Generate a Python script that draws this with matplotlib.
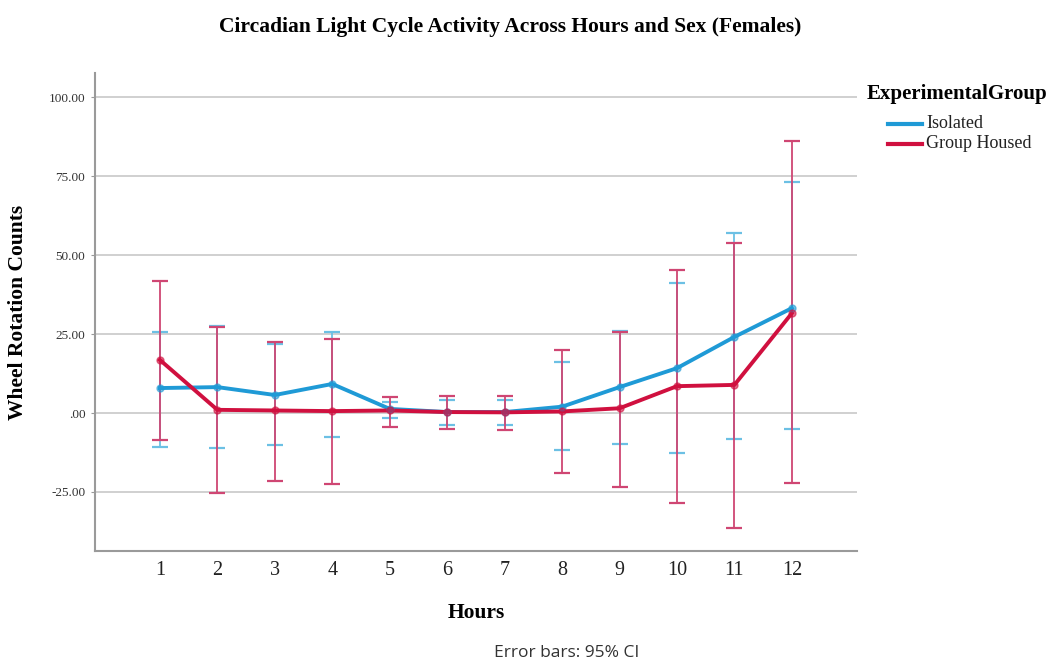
import matplotlib
import matplotlib.pyplot as plt
from matplotlib.lines import Line2D
from matplotlib.ticker import FuncFormatter

matplotlib.use('Agg')

hours = [1, 2, 3, 4, 5, 6, 7, 8, 9, 10, 11, 12]

# mean wheel counts and 95% CI bounds per group
isolated_mean = [7.9, 8.2, 5.7, 9.2, 1.3, 0.3, 0.3, 2.0, 8.2, 14.2, 24.1, 33.2]
isolated_low = [-10.8, -11.0, -10.1, -7.7, -1.6, -3.8, -3.8, -11.7, -9.8, -12.8, -8.3, -5.1]
isolated_high = [25.6, 27.4, 22.0, 25.6, 3.6, 4.1, 4.1, 16.2, 26.0, 41.1, 57.0, 73.2]

housed_mean = [16.8, 1.0, 0.8, 0.6, 0.8, 0.3, 0.2, 0.5, 1.5, 8.5, 8.9, 31.6]
housed_low = [-8.5, -25.3, -21.5, -22.5, -4.4, -5.2, -5.3, -18.9, -23.5, -28.5, -36.4, -22.2]
housed_high = [41.8, 27.3, 22.5, 23.4, 5.1, 5.4, 5.4, 20.0, 25.7, 45.3, 53.8, 86.0]

groups = ['Isolated', 'Group Housed']
y_ticks = [-25, 0, 25, 50, 75, 100]

BLUE = '#1f9ad6'
RED = '#d0103f'
BLUE_ERR = '#6cc0e4'
RED_ERR = '#cf4673'
SERIF = 'Liberation Serif'


def fmt_tick(v, pos):
    s = '%.2f' % v
    if s.startswith('0'):
        s = s[1:]
    elif s.startswith('-0'):
        s = '-' + s[2:]
    return s


def draw_group(ax, mean, low, high, color, err_color):
    yerr = [[m - lo for m, lo in zip(mean, low)], [hi - m for m, hi in zip(mean, high)]]
    ax.errorbar(hours, mean, yerr=yerr, fmt='none', ecolor=err_color,
                elinewidth=1.3, capsize=5.5, capthick=1.6, zorder=3)
    ax.plot(hours, mean, color=color, linewidth=2.8, zorder=4)
    ax.plot(hours, mean, 'o', color=color, markersize=5, alpha=0.6, zorder=5)


fig = plt.figure(figsize=(10.63, 6.66), dpi=100)
ax = fig.add_axes([0.0894, 0.1727, 0.7166, 0.7173])

draw_group(ax, isolated_mean, isolated_low, isolated_high, BLUE, BLUE_ERR)
draw_group(ax, housed_mean, housed_low, housed_high, RED, RED_ERR)

ax.set_xlim(-0.13, 13.13)
ax.set_ylim(-43.7, 107.6)
ax.set_xticks(hours)
ax.set_xticklabels([str(h) for h in hours], fontsize=14.5, family=SERIF)
ax.set_yticks(y_ticks)
ax.yaxis.set_major_formatter(FuncFormatter(fmt_tick))
for lab in ax.get_yticklabels():
    lab.set_family(SERIF)
    lab.set_fontsize(9.5)
ax.tick_params(axis='x', length=0, pad=7, colors='#222222')
ax.tick_params(axis='y', length=3, width=0.8, pad=4, colors='#333333')
ax.tick_params(axis='y', color='#999999')

ax.grid(axis='y', color='#c8c8c8', linewidth=1.2, zorder=0)
ax.set_axisbelow(True)
for side in ['top', 'right']:
    ax.spines[side].set_visible(False)
for side in ['left', 'bottom']:
    ax.spines[side].set_color('#9a9a9a')
    ax.spines[side].set_linewidth(1.5)

ax.set_xlabel('Hours', fontsize=15.5, fontweight='bold', family=SERIF, va='center')
ax.set_ylabel('Wheel Rotation Counts', fontsize=15.5, fontweight='bold', family=SERIF,
              va='center')
ax.xaxis.set_label_coords(0.5, -0.13)
ax.yaxis.set_label_coords(-0.101, 0.5)

fig.text(0.48, 0.96, 'Circadian Light Cycle Activity Across Hours and Sex (Females)',
         ha='center', va='center', fontsize=15.5, fontweight='bold', family=SERIF)

# legend laid out by hand: bold title, indented line keys
fig.text(867 / 1063, 1 - 94 / 666, 'ExperimentalGroup', ha='left', va='center',
         fontsize=15, fontweight='bold', family=SERIF)
for i, (name, color) in enumerate(zip(groups, [BLUE, RED])):
    yk = 1 - (124 + 20 * i) / 666
    fig.add_artist(Line2D([888 / 1063, 922 / 1063], [yk, yk], color=color,
                          linewidth=3, transform=fig.transFigure))
    fig.text(926 / 1063, yk, name, ha='left', va='center', fontsize=13, family=SERIF,
             color='#222222')

fig.text(0.533, 0.019, 'Error bars: 95% CI', ha='center', va='center',
         fontsize=12.5, family='Open Sans', color='#333333')

fig.savefig('out.png', dpi=100, facecolor='white')
